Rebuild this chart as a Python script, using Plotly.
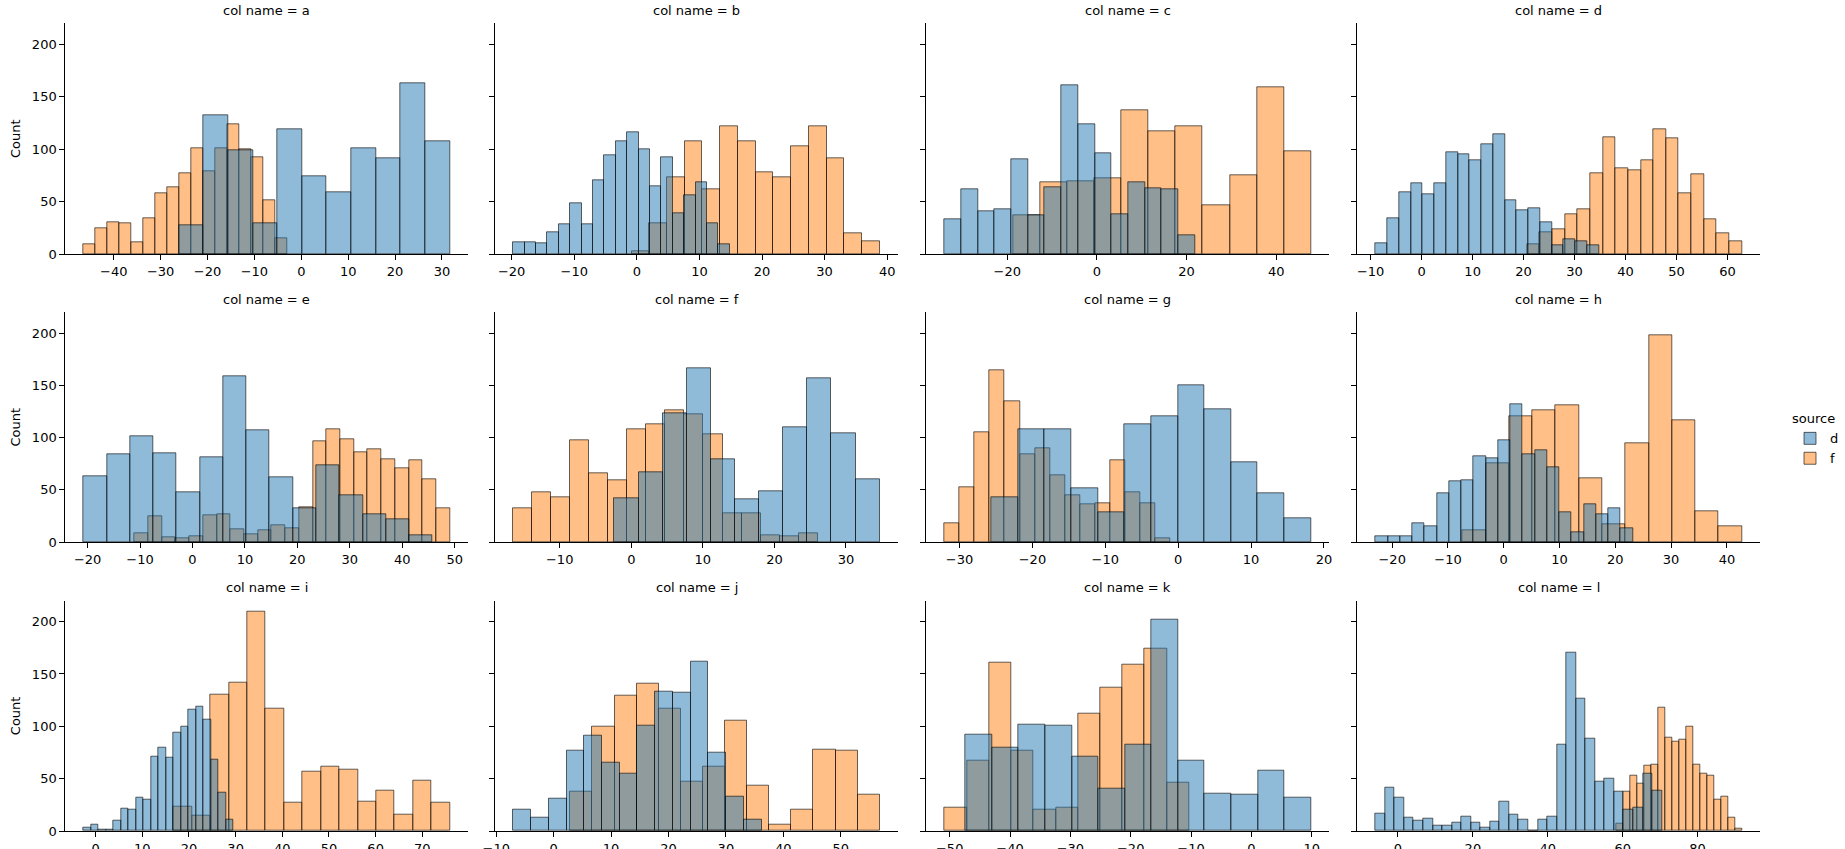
import plotly.graph_objects as go

# ---------------- data ----------------
panel_names = ["a", "b", "c", "d", "e", "f", "g", "h", "i", "j", "k", "l"]

# bins given as (first edge, bin width); counts per bin
a_d_bins = (-26.10, 5.256)
a_d_counts = [27, 132, 99, 29, 119, 74, 59, 101, 91, 163, 107]
a_f_bins = (-46.44, 2.560)
a_f_counts = [9, 24.5, 30, 29, 11, 34, 58, 64, 77, 101, 79, 101, 124, 100, 92, 51, 15]

b_d_bins = (-19.73, 1.819)
b_d_counts = [11, 11, 10, 21, 28, 48, 28, 70, 94, 107, 116, 100, 65, 92, 39, 56, 68, 29, 9]
b_f_bins = (-0.85, 2.832)
b_f_counts = [2.5, 29, 73, 107, 62, 122, 107, 78, 73, 103, 122, 91, 20, 12]

c_d_bins = (-33.98, 3.724)
c_d_counts = [33, 62, 41, 43, 90, 37, 64, 161, 124, 96, 38, 68, 63, 62, 18]
c_f_bins = (-18.62, 6.035)
c_f_counts = [37, 68, 69, 72, 137, 117, 122, 46, 75, 159, 98]

d_d_bins = (-9.03, 2.306)
d_d_counts = [10, 34, 59, 67, 57, 67, 97, 95, 89, 105, 114, 51, 42, 44, 30, 8, 14, 12, 8]
d_f_bins = (20.67, 2.481)
d_f_counts = [9, 21, 24, 38, 43, 77, 111, 82, 80, 89, 119, 110, 58, 76, 33, 20, 12]

e_d_bins = (-20.76, 4.437)
e_d_counts = [62.6, 84, 101, 85, 48, 81, 159, 106.5, 62, 32, 73, 44.5, 27, 21.6, 6.4]
e_f_bins = (-11.04, 2.615)
e_f_counts = [8, 25, 4.5, 3.5, 5.4, 25.4, 27, 12, 7.3, 11, 16, 13, 33, 96, 107.5, 98,
              85.5, 88.4, 79, 71, 78, 60, 32]

f_d_bins = (-2.35, 3.369)
f_d_counts = [41.7, 66.5, 123.7, 166.6, 79, 40.7, 48.3, 109.4, 157, 103.7, 59.8]
f_f_bins = (-16.48, 2.657)
f_f_counts = [32, 47.4, 42.6, 97, 65.5, 59, 108, 113, 126.5, 122.7, 102.7, 27.3, 27.3, 6.4, 5.4, 8.3]

g_d_bins = (-25.62, 3.653)
g_d_counts = [42.6, 108.4, 107.5, 51.2, 28.3, 113, 120, 150.4, 127.5, 76, 46.4, 22.6]
g_f_bins = (-32.05, 2.063)
g_f_counts = [17.8, 52, 104.6, 164.7, 135, 83.6, 90, 63.6, 44.5, 36, 36.9, 78, 47.4, 36.9, 3.5]

h_d_bins = (-22.97, 2.196)
h_d_counts = [5.4, 5.4, 5.4, 17.8, 15, 46.4, 57.9, 58.8, 81.7, 79.8, 97, 132.3, 83.6, 87.4,
              71.2, 28.3, 9.2, 36, 26.4, 32.1, 13]
h_f_bins = (-7.36, 4.172)
h_f_counts = [11, 75, 120.8, 126.5, 131.3, 60.7, 16.8, 95, 198, 117, 29.3, 15]

i_d_bins = (-2.57, 1.607)
i_d_counts = [3.5, 6.4, 1.6, 1, 10.2, 21.6, 20.7, 32.1, 30.2, 71.2, 79.8, 70.3, 94.1, 99.8,
              116, 119, 106.5, 68.4, 36.9, 11.1]
i_f_bins = (16.71, 3.948)
i_f_counts = [23.5, 15, 130, 141.8, 209.5, 117, 27.3, 57, 61.7, 58.8, 28.3, 38.8, 15.9, 48.3, 27.3]

j_d_bins = (-7.03, 3.089)
j_d_counts = [20.7, 13, 31.2, 77, 91.3, 65.5, 55, 100.8, 133.2, 132.3, 161.8, 75, 33, 11.1]
j_f_bins = (2.91, 3.849)
j_f_counts = [37.8, 99.8, 129.4, 140.9, 117, 47.4, 61.7, 105.6, 43.6, 6.4, 20.7, 77.9, 77, 35]

k_d_bins = (-47.36, 4.403)
k_d_counts = [92.2, 79.8, 101.7, 100.8, 71.2, 40.7, 82.7, 201.9, 67.4, 35.9, 35, 57.9, 32.1]
k_f_bins = (-50.84, 3.686)
k_f_counts = [22.6, 67.4, 160.9, 77, 20.7, 22.6, 112.2, 137, 159, 174.2, 46.4]

l_d_bins = (-5.97, 2.548)
l_d_counts = [16.9, 41.7, 32.1, 13, 10.2, 12.1, 5.4, 5.4, 8.3, 14, 8.3, 3.5, 9.2, 28.3, 15.9,
              11.1, 0.6, 11.1, 14, 82.7, 170.4, 126.6, 88.4, 47.4, 50.2, 37.8, 20.7, 22.6, 55, 38.8]
l_f_bins = (58.17, 1.871)
l_f_counts = [7.3, 37.8, 53.1, 45.5, 62.6, 63.6, 118, 89.3, 85.5, 87.4, 99.8, 63.6, 55, 53.1,
              30.2, 33, 13, 2.5]

# x tick values per panel
a_ticks = [-40, -30, -20, -10, 0, 10, 20, 30]
b_ticks = [-20, -10, 0, 10, 20, 30, 40]
c_ticks = [-20, 0, 20, 40]
d_ticks = [-10, 0, 10, 20, 30, 40, 50, 60]
e_ticks = [-20, -10, 0, 10, 20, 30, 40, 50]
f_ticks = [-10, 0, 10, 20, 30]
g_ticks = [-30, -20, -10, 0, 10, 20]
h_ticks = [-20, -10, 0, 10, 20, 30, 40]
i_ticks = [0, 10, 20, 30, 40, 50, 60, 70]
j_ticks = [-10, 0, 10, 20, 30, 40, 50]
k_ticks = [-50, -40, -30, -20, -10, 0, 10]
l_ticks = [0, 20, 40, 60, 80]
y_ticks = [0, 50, 100, 150, 200]

hue_levels = ["d", "f"]
# ----------------------------------------------------------------

panels = [
    (a_d_bins, a_d_counts, a_f_bins, a_f_counts, a_ticks),
    (b_d_bins, b_d_counts, b_f_bins, b_f_counts, b_ticks),
    (c_d_bins, c_d_counts, c_f_bins, c_f_counts, c_ticks),
    (d_d_bins, d_d_counts, d_f_bins, d_f_counts, d_ticks),
    (e_d_bins, e_d_counts, e_f_bins, e_f_counts, e_ticks),
    (f_d_bins, f_d_counts, f_f_bins, f_f_counts, f_ticks),
    (g_d_bins, g_d_counts, g_f_bins, g_f_counts, g_ticks),
    (h_d_bins, h_d_counts, h_f_bins, h_f_counts, h_ticks),
    (i_d_bins, i_d_counts, i_f_bins, i_f_counts, i_ticks),
    (j_d_bins, j_d_counts, j_f_bins, j_f_counts, j_ticks),
    (k_d_bins, k_d_counts, k_f_bins, k_f_counts, k_ticks),
    (l_d_bins, l_d_counts, l_f_bins, l_f_counts, l_ticks),
]

W, H = 1845, 849
col_px = [(65.3, 468.3), (495.0, 898.0), (926.3, 1329.3), (1357.3, 1760.3)]
row_px = [(23.3, 254.0), (312.3, 542.0), (600.7, 831.0)]

FILL = {"d": "rgba(31,119,180,0.5)", "f": "rgba(255,127,14,0.5)"}
EDGE = "rgba(0,0,0,0.6)"
FONT = "DejaVu Sans"

fig = go.Figure()
layout = {}
annotations = []
ymax = 1.05 * max(max(v) for p in panels for v in (p[1], p[3]))

for idx, (dbins, dcounts, fbins, fcounts, ticks) in enumerate(panels):
    r, c = divmod(idx, 4)
    n = idx + 1
    xa = "x" if n == 1 else f"x{n}"
    ya = "y" if n == 1 else f"y{n}"
    # orange (f) first, blue (d) drawn on top
    for hue, bins, counts, rank in (("f", fbins, fcounts, 2), ("d", dbins, dcounts, 1)):
        start, w = bins
        centers = [start + w * (k + 0.5) for k in range(len(counts))]
        fig.add_trace(go.Bar(
            x=centers, y=counts, width=[w] * len(counts),
            marker=dict(color=FILL[hue], line=dict(color=EDGE, width=1)),
            name=hue, legendgroup=hue, showlegend=(idx == 0), legendrank=rank,
            xaxis=xa, yaxis=ya, hovertemplate="%{y}<extra>" + hue + "</extra>",
        ))
    lo = min(dbins[0], fbins[0])
    hi = max(dbins[0] + dbins[1] * len(dcounts), fbins[0] + fbins[1] * len(fcounts))
    pad = 0.05 * (hi - lo)
    x0, x1 = col_px[c]
    y0, y1 = row_px[r]
    xkey = "xaxis" if n == 1 else f"xaxis{n}"
    ykey = "yaxis" if n == 1 else f"yaxis{n}"
    layout[xkey] = dict(
        domain=[x0 / W, x1 / W], anchor=ya, range=[lo - pad, hi + pad],
        tickvals=ticks, ticktext=[str(t).replace("-", "\u2212") for t in ticks],
        showline=True, linecolor="black", linewidth=1, ticks="outside", ticklen=5,
        tickwidth=1, tickcolor="black", showgrid=False, zeroline=False,
        ticklabeloverflow="allow",
        tickfont=dict(family=FONT, size=13, color="black"),
    )
    layout[ykey] = dict(
        domain=[1 - y1 / H, 1 - y0 / H], anchor=xa, range=[0, ymax],
        tickvals=y_ticks, showticklabels=(c == 0),
        showline=True, linecolor="black", linewidth=1, ticks="outside", ticklen=5,
        tickwidth=1, tickcolor="black", showgrid=False, zeroline=False,
        tickfont=dict(family=FONT, size=13, color="black"),
        title=dict(text="Count", standoff=8, font=dict(family=FONT, size=13, color="black")) if c == 0 else None,
    )
    annotations.append(dict(
        text=f"col name = {panel_names[idx]}", xref="paper", yref="paper",
        x=(x0 + x1) / 2 / W, y=1 - y0 / H, xanchor="center", yanchor="middle",
        yshift=13, showarrow=False, font=dict(family=FONT, size=13, color="black"),
    ))

fig.update_layout(
    width=W, height=H, margin=dict(l=0, r=0, t=0, b=0, autoexpand=False),
    paper_bgcolor="white", plot_bgcolor="white", barmode="overlay", bargap=0,
    annotations=annotations,
    legend=dict(
        title=dict(text="source", font=dict(family=FONT, size=13, color="black")),
        font=dict(family=FONT, size=13, color="black"),
        x=1790 / W, y=1 - 440 / H, xanchor="left", yanchor="middle",
        bgcolor="rgba(0,0,0,0)", traceorder="normal", itemwidth=30,
    ),
    font=dict(family=FONT, size=13, color="black"),
    **layout,
)

fig.write_html(
    "out.html",
    config={"displayModeBar": False},
    post_script="document.body.style.margin='0';document.body.style.overflow='hidden';",
)
